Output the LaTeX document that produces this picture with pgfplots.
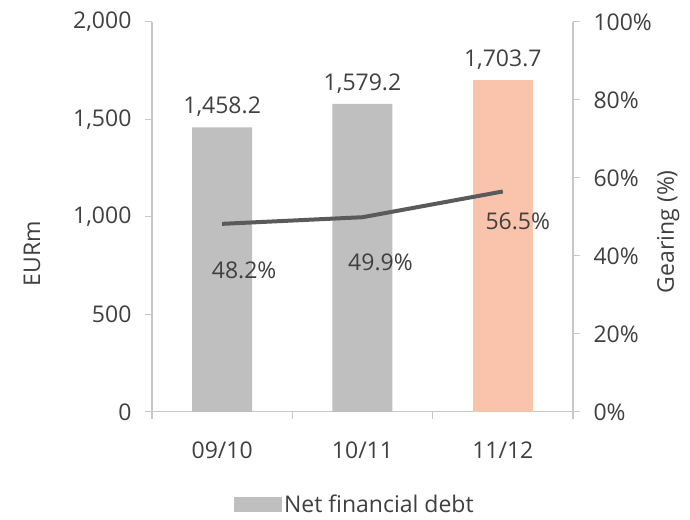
\documentclass[border=0pt]{standalone}
\usepackage{pgfplots}
\pgfplotsset{compat=1.18}
\usepackage{fontspec}
\setmainfont{Open Sans}
\definecolor{txt}{HTML}{404040}
\definecolor{barg}{HTML}{BFBFBF}
\definecolor{sal}{HTML}{F9C4AB}
\definecolor{linec}{HTML}{5A5A5A}
\definecolor{axc}{HTML}{C8C8C8}
\newcommand{\cf}{\fontsize{23pt}{27pt}\selectfont}
\begin{document}
\begin{tikzpicture}
\pgfplotsset{
  common/.style={
    scale only axis, width=421pt, height=390pt,
    xmin=-0.5, xmax=2.5,
    axis line style={axc, line width=1.2pt},
    tick style={axc, line width=1.2pt},
    tick align=outside, major tick length=7pt,
    every tick label/.append style={font=\cf, text=txt},
    label style={font=\cf, text=txt},
    /pgf/number format/assume math mode=true,
  }
}
\begin{axis}[common,
  axis y line*=left, axis x line*=bottom,
  ymin=0, ymax=2000, ytick={0,500,...,2000},
  yticklabel style={xshift=-10pt},
  /pgf/number format/1000 sep={,},
  xtick={-0.5,0.5,1.5,2.5}, xticklabels={},
  extra x ticks={0,1,2}, extra x tick labels={09/10,10/11,11/12},
  extra x tick style={major tick length=0pt, xticklabel style={anchor=center, yshift=-38pt}},
  ylabel={EURm},
  ylabel style={at={(rel axis cs:-0.285,0.405)}, anchor=center, rotate=0},
  ybar, bar width=60pt,
  nodes near coords={\pgfmathprintnumber[fixed,fixed zerofill,precision=1,1000 sep={,}]{\pgfplotspointmeta}},
  every node near coord/.append style={font=\cf, text=txt, yshift=7pt},
  legend style={draw=none, at={(rel axis cs:0.482,-0.238)}, anchor=center, font=\cf, text=txt, inner sep=0pt},
  legend image code/.code={\fill[barg] (0pt,-7.5pt) rectangle (48pt,7.5pt);},
]
\addplot[fill=barg, draw=none, bar shift=0pt] coordinates {(0,1458.2) (1,1579.2)};
\addlegendentry{Net financial debt}
\addplot[fill=sal, draw=none, bar shift=0pt, forget plot] coordinates {(2,1703.7)};
\coordinate (bl) at (rel axis cs:-0.361,-0.277);
\coordinate (tr) at (rel axis cs:1.278,1.056);
\end{axis}
\begin{axis}[common,
  axis y line*=right, axis x line=none,
  ymin=0, ymax=100, ytick={0,20,...,100},
  yticklabel={\pgfmathprintnumber{\tick}\%},
  yticklabel style={xshift=10pt},
  ylabel={Gearing (\%)},
  ylabel style={at={(rel axis cs:1.226,0.462)}, anchor=center, rotate=0},
  visualization depends on={value \thisrow{dx}\as\dx},
  visualization depends on={value \thisrow{dy}\as\dy},
]
\addplot[linec, line width=4pt, mark=none,
  nodes near coords={\pgfmathprintnumber[fixed,fixed zerofill,precision=1]{\pgfplotspointmeta}\%},
  every node near coord/.append style={font=\cf, text=txt, anchor=center, xshift=\dx pt, yshift=\dy pt},
  point meta=explicit]
  table[x=x, y=y, meta=y] {
x y dx dy
0 48.2 22 -46
1 49.9 18 -45
2 56.5 15 -30
};
\end{axis}
\pgfresetboundingbox
\path[use as bounding box] (bl) rectangle (tr);
\end{tikzpicture}
\end{document}
